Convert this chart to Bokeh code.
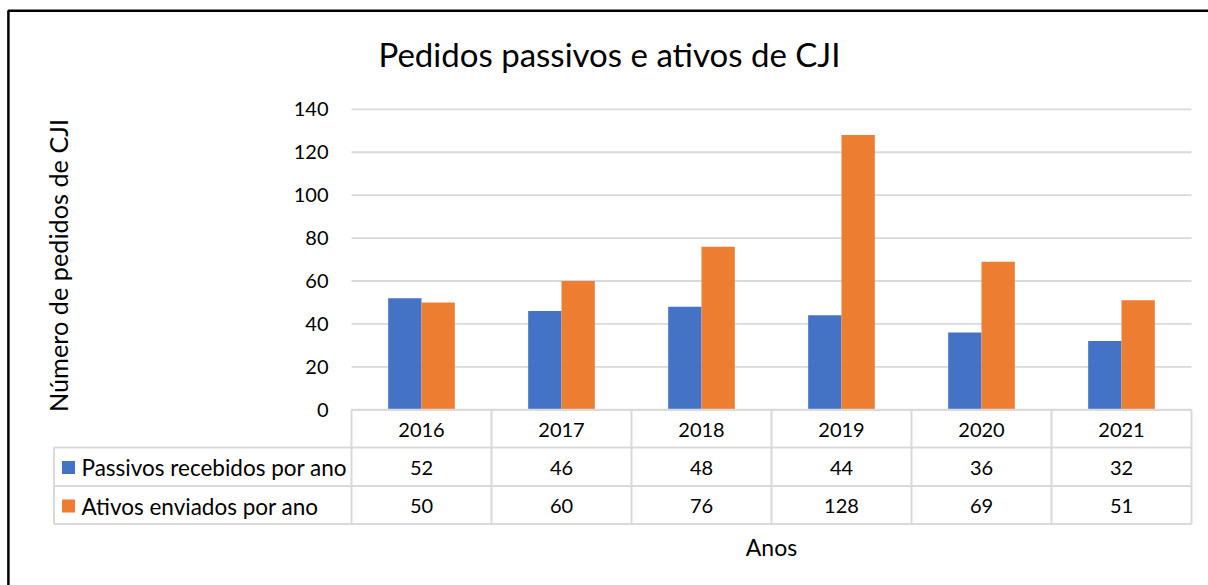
import numpy as np
from bokeh.plotting import figure
from bokeh.models import ColumnDataSource, FixedTicker, Range1d
from bokeh.core.properties import value
from bokeh.embed import file_html
from bokeh.resources import INLINE

# ---------------- data ----------------
title_text = "Pedidos passivos e ativos de CJI"
x_title = "Anos"
y_title = "Número de pedidos de CJI"
years = ["2016", "2017", "2018", "2019", "2020", "2021"]
series_names = ["Passivos recebidos por ano", "Ativos enviados por ano"]
passivos = [52, 46, 48, 44, 36, 32]
ativos = [50, 60, 76, 128, 69, 51]
y_ticks = [0, 20, 40, 60, 80, 100, 120, 140]
colors = ["#4472C4", "#ED7D31"]

# ---------------- layout (page pixels) ----------------
W, H = 1208, 585
ORIGIN = 0             # page offset of the figure (template has no body margin)
PX0 = 351.0            # page x where first category starts
PXU = 140.0            # px per category
PY0 = 409.3            # page y of value 0
PYU = 300.5 / 140.0    # px per value unit
FONT = "Lato"
GRID_COLOR = "#D9D9D9"
TEXT_COLOR = "#000000"


def dx(px):
    return (px - PX0) / PXU


def dy(py):
    return (PY0 - py) / PYU


n = len(years)
p = figure(width=W, height=H, output_backend="svg", toolbar_location=None,
           x_range=Range1d(dx(ORIGIN), dx(ORIGIN + W)),
           y_range=Range1d(dy(ORIGIN + H), dy(ORIGIN)),
           min_border=0, min_border_left=0, min_border_right=0,
           min_border_top=0, min_border_bottom=0)
p.outline_line_color = None
p.background_fill_color = "white"
p.border_fill_color = "white"
p.xaxis.visible = False
p.xgrid.visible = False
p.ygrid.visible = False

# y axis placed at the start of the category area
yax = p.yaxis[0]
yax.fixed_location = 0
yax.ticker = FixedTicker(ticks=y_ticks)
yax.axis_line_color = None
yax.major_tick_line_color = None
yax.minor_tick_line_color = None
yax.major_tick_out = 0
yax.major_tick_in = 0
yax.major_label_standoff = 23
yax.major_label_text_font = FONT
yax.major_label_text_font_size = "20px"
yax.major_label_text_color = TEXT_COLOR

# gridlines at tick values over the category area
p.segment(x0=[0] * len(y_ticks), x1=[n] * len(y_ticks), y0=y_ticks, y1=y_ticks,
          line_color=GRID_COLOR, line_width=1.8)

# bars
xc = np.arange(n) + 0.5
bw = 0.238
src = ColumnDataSource(dict(x1=xc - bw / 2, x2=xc + bw / 2, p=passivos, a=ativos,
                            xc=xc, years=years,
                            ps=[str(v) for v in passivos], as_=[str(v) for v in ativos]))
p.vbar(x="x1", width=bw, top="p", bottom=0, source=src, fill_color=colors[0], line_color=None)
p.vbar(x="x2", width=bw, top="a", bottom=0, source=src, fill_color=colors[1], line_color=None)

# data table
rows_px = [409.3, 447, 485.5, 523.5]
label_left_px = 53.5
rows = [dy(v) for v in rows_px]
lx = dx(label_left_px)
hx0 = [0, lx, lx, lx]
p.segment(x0=hx0, x1=[n] * 4, y0=rows, y1=rows, line_color=GRID_COLOR, line_width=2)
vx = list(range(n + 1)) + [lx]
vy0 = [rows[0]] * (n + 1) + [rows[1]]
p.segment(x0=vx, x1=vx, y0=vy0, y1=[rows[3]] * (n + 2), line_color=GRID_COLOR, line_width=2)

tfont = dict(text_font=value(FONT), text_font_size=value("20px"), text_color=TEXT_COLOR)
p.text(x="xc", y=dy(429.5), text="years", source=src, text_align="center",
       text_baseline="middle", **tfont)
p.text(x="xc", y=dy(467), text="ps", source=src, text_align="center",
       text_baseline="middle", **tfont)
p.text(x="xc", y=dy(505.5), text="as_", source=src, text_align="center",
       text_baseline="middle", **tfont)

# legend keys + series names in the table
p.scatter(x=[dx(68)] * 2, y=[dy(467), dy(505.5)], marker="square", size=13,
          fill_color=colors, line_color=None)
p.text(x=[dx(81)] * 2, y=[dy(467), dy(505.5)], text=series_names, text_align="left",
       text_baseline="middle", text_font=value(FONT), text_font_size=value("22.5px"),
       text_color=TEXT_COLOR)

# titles
p.text(x=[dx(609)], y=[dy(53)], text=[title_text], text_align="center",
       text_baseline="middle", text_font=value(FONT), text_font_size=value("33px"),
       text_color=TEXT_COLOR)
p.text(x=[dx(771)], y=[dy(546)], text=[x_title], text_align="center",
       text_baseline="middle", text_font=value(FONT), text_font_size=value("23px"),
       text_color=TEXT_COLOR)
p.text(x=[dx(57.5)], y=[dy(265)], text=[y_title], angle=np.pi / 2, text_align="center",
       text_baseline="middle", text_font=value(FONT), text_font_size=value("25.3px"),
       text_color=TEXT_COLOR)

# chart border (top and left edges)
p.line(x=[dx(7.9), dx(7.9), dx(ORIGIN + W)], y=[dy(ORIGIN + H), dy(10.3), dy(10.3)],
       line_color="#000000", line_width=2.5)

open("out.html", "w").write(file_html(p, INLINE))
